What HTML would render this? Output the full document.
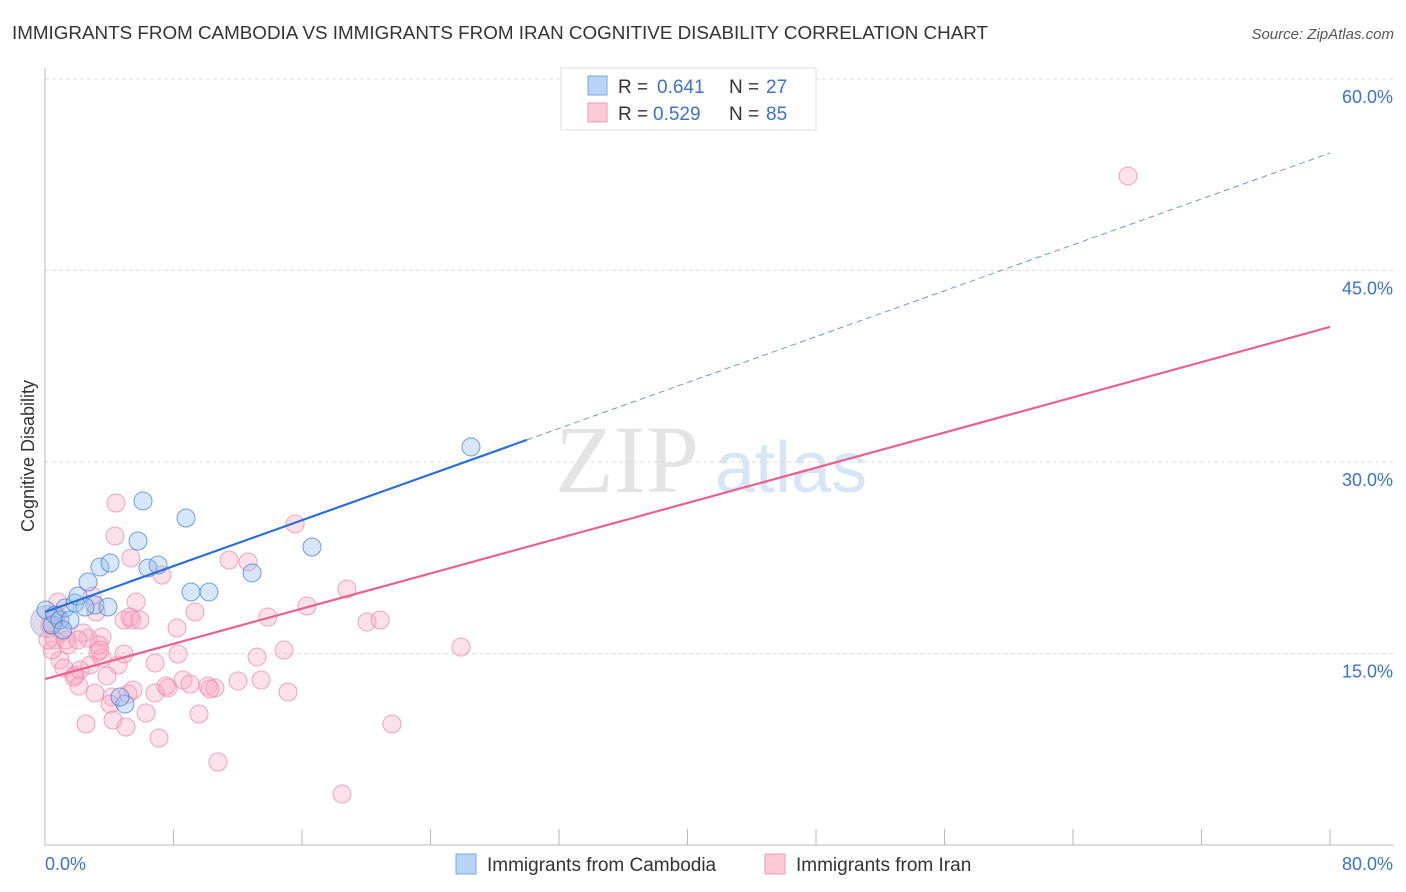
<!DOCTYPE html>
<html><head><meta charset="utf-8"><style>
body{margin:0;background:#fff;font-family:"Liberation Sans",sans-serif;}
svg{display:block}
</style></head><body>
<svg id="chart" width="1406" height="892" xmlns="http://www.w3.org/2000/svg">
<text x="12" y="39" font-size="18" fill="#333" textLength="976" lengthAdjust="spacingAndGlyphs">IMMIGRANTS FROM CAMBODIA VS IMMIGRANTS FROM IRAN COGNITIVE DISABILITY CORRELATION CHART</text>
<text x="1394" y="39" font-size="15" fill="#555" text-anchor="end" font-style="italic">Source: ZipAtlas.com</text>
<g>
<text x="555" y="492" font-size="96" fill="#e4e4e4" font-family="Liberation Serif,serif">ZIP</text>
<text x="715" y="492" font-size="72" fill="#d8e5f5">atlas</text>
</g>
<g id="grid"></g>
<g id="axes"></g>
<g id="marks"></g>
<text transform="translate(34,456) rotate(-90)" font-size="18" fill="#333" text-anchor="middle">Cognitive Disability</text>
<g>
<rect x="561" y="68" width="255" height="62" fill="#fff" stroke="#ddd"/>
<rect x="588" y="76" width="19" height="19" fill="#b7d3f5" stroke="#7aa8e0"/>
<rect x="588" y="103" width="19" height="19" fill="#fcc9d8" stroke="#f09ab5"/>
<text y="93" font-size="19" fill="#333"><tspan x="618">R =</tspan><tspan x="657" fill="#3a72cc">0.641</tspan><tspan x="729">N =</tspan><tspan x="766" fill="#3a72cc">27</tspan></text>
<text y="120" font-size="19" fill="#333"><tspan x="618">R =</tspan><tspan x="653" fill="#3a72cc">0.529</tspan><tspan x="729">N =</tspan><tspan x="766" fill="#3a72cc">85</tspan></text>
</g>
<g>
<rect x="456" y="854" width="20" height="20" fill="#b7d3f5" stroke="#7aa8e0"/>
<text x="487" y="871" font-size="19" fill="#333">Immigrants from Cambodia</text>
<rect x="765" y="854" width="20" height="20" fill="#fcc9d8" stroke="#f09ab5"/>
<text x="796" y="871" font-size="19" fill="#333">Immigrants from Iran</text>
</g>
</svg>
<script>
const yTicks=[15,30,45,60];
const yTickLabels=["15.0%","30.0%","45.0%","60.0%"];
const xTickLabels=["0.0%","80.0%"];
const cambodiaX=[0.06,0.44,0.62,0.93,1.25,1.56,1.87,2.05,2.68,3.11,3.42,3.92,4.05,4.98,5.79,6.10,6.41,7.04,8.78,9.09,10.21,12.89,16.62,26.52,2.49,1.12,4.67];
const cambodiaY=[18.41,17.23,18.02,17.62,18.56,17.62,18.96,19.50,20.60,18.80,21.78,18.64,22.09,11.04,23.81,26.95,21.70,21.93,25.61,19.82,19.82,21.31,23.34,31.18,18.64,16.84,11.59];
const iranX=[67.43,15.57,4.42,4.36,5.35,7.28,11.46,12.64,18.80,5.67,9.34,13.88,20.05,20.86,25.90,16.31,8.22,4.92,5.42,2.68,3.55,0.75,0.31,1.06,0.62,1.43,0.93,1.18,1.87,2.18,2.80,3.30,3.55,4.55,4.92,6.85,8.59,10.15,10.58,12.02,13.45,14.88,13.20,15.13,7.66,6.85,5.17,4.17,3.11,4.05,3.86,2.12,2.55,4.23,5.04,7.10,6.29,9.59,10.77,18.49,21.60,8.28,3.36,0.44,0.19,0.81,2.93,2.37,3.18,1.81,5.29,5.48,10.27,9.03,1.31,5.91,3.42,2.05,7.53];
const iranY=[52.40,25.14,26.79,24.20,22.48,21.15,22.32,22.17,20.05,19.03,18.25,17.86,17.47,17.62,15.51,18.72,17.00,17.62,17.62,16.21,16.29,18.02,17.23,16.68,16.06,15.67,14.49,13.86,13.32,13.71,14.10,15.12,14.65,14.10,14.96,14.26,12.92,12.45,12.30,12.85,12.92,15.27,14.73,11.98,12.30,11.91,11.83,11.59,11.91,11.04,13.24,12.45,9.48,9.79,9.24,8.38,10.34,10.26,6.50,3.99,9.48,14.96,15.67,15.27,16.06,19.03,19.50,16.61,18.25,13.16,17.86,12.14,12.22,12.61,16.06,17.62,15.27,16.06,12.45];
const cambodiaTrend=[18.25,54.2];
const iranTrend=[13.0,40.58];
const NS="http://www.w3.org/2000/svg";
const sx=v=>45+v/80*1285, sy=v=>845-v/15*191.5;
function mk(tag,attrs,parent){const e=document.createElementNS(NS,tag);for(const k in attrs)e.setAttribute(k,attrs[k]);parent.appendChild(e);return e;}
const grid=document.getElementById('grid'),axes=document.getElementById('axes'),marks=document.getElementById('marks');
yTicks.forEach((t,i)=>{
 const l=mk('line',{x1:45,x2:1394,y1:sy(t),y2:sy(t),stroke:'#ddd','stroke-dasharray':'4,3'},grid);
 
 
 const tx=mk('text',{x:1393,y:sy(t)+24,'font-size':18,fill:'#3a72cc','text-anchor':'end'},axes);
 tx.textContent=yTickLabels[i];
 
 
});
mk('line',{x1:45,x2:45,y1:68,y2:845,stroke:'#bbb'},axes);
mk('line',{x1:45,x2:1394,y1:845,y2:845,stroke:'#bbb'},axes);
for(let i=0;i<=10;i++){mk('line',{x1:sx(i*8),x2:sx(i*8),y1:829,y2:845,stroke:'#bbb'},axes);}
const xl0=mk('text',{x:45,y:870,'font-size':18,fill:'#3a72cc'},axes);xl0.textContent=xTickLabels[0];


const xl1=mk('text',{x:1393,y:870,'font-size':18,fill:'#3a72cc','text-anchor':'end'},axes);xl1.textContent=xTickLabels[1];


const bc=mk('circle',{cx:sx(0.1),cy:sy(17.5),r:16,fill:'rgba(160,150,200,0.35)',stroke:'rgba(140,140,200,0.5)'},marks);


iranX.forEach((x,i)=>{const c=mk('circle',{cx:sx(x),cy:sy(iranY[i]),r:9,fill:'rgba(248,170,196,0.35)',stroke:'rgba(236,130,165,0.7)','stroke-width':1},marks);
 
 });
cambodiaX.forEach((x,i)=>{const c=mk('circle',{cx:sx(x),cy:sy(cambodiaY[i]),r:9,fill:'rgba(150,190,240,0.38)',stroke:'rgba(70,130,210,0.75)','stroke-width':1},marks);
 
 });
const cy=x=>cambodiaTrend[0]+(cambodiaTrend[1]-cambodiaTrend[0])*x/80;
const iy=x=>iranTrend[0]+(iranTrend[1]-iranTrend[0])*x/80;
const t1=mk('line',{x1:sx(0),y1:sy(cy(0)),x2:sx(30),y2:sy(cy(30)),stroke:'#2a6fd6','stroke-width':2.2},marks);


const t2=mk('line',{x1:sx(30),y1:sy(cy(30)),x2:sx(80),y2:sy(cy(80)),stroke:'#6a98d8','stroke-width':1,'stroke-dasharray':'6,4'},marks);


const t3=mk('line',{x1:sx(0),y1:sy(iy(0)),x2:sx(80),y2:sy(iy(80)),stroke:'#e8628f','stroke-width':2.2},marks);


</script>
</body></html>
